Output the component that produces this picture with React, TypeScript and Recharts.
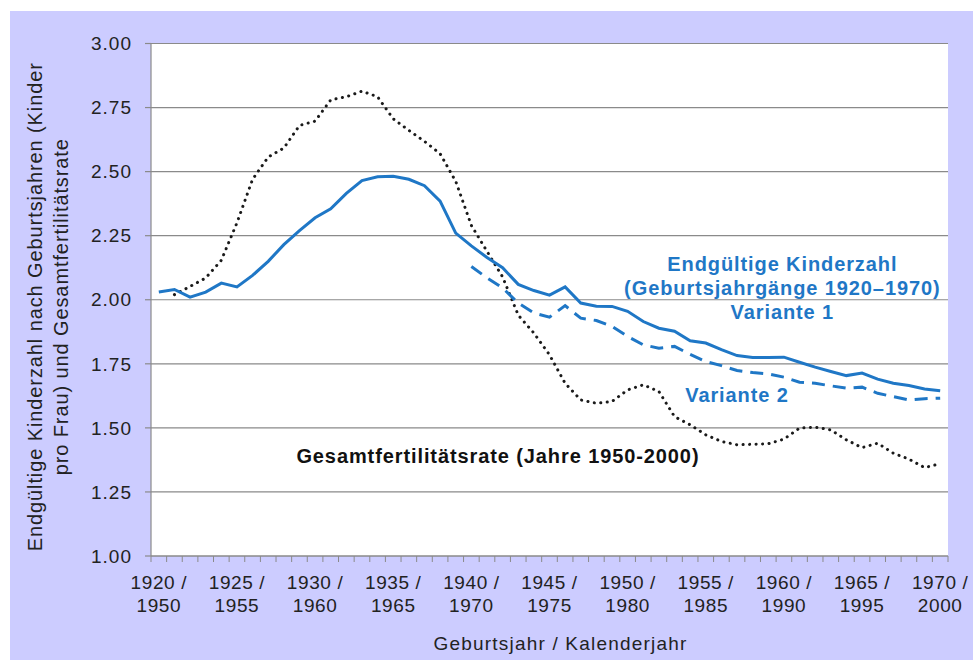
import { LineChart, Line, XAxis, YAxis, CartesianGrid, ReferenceDot } from 'recharts';

const years = [
  1920, 1921, 1922, 1923, 1924, 1925, 1926, 1927, 1928, 1929,
  1930, 1931, 1932, 1933, 1934, 1935, 1936, 1937, 1938, 1939,
  1940, 1941, 1942, 1943, 1944, 1945, 1946, 1947, 1948, 1949,
  1950, 1951, 1952, 1953, 1954, 1955, 1956, 1957, 1958, 1959,
  1960, 1961, 1962, 1963, 1964, 1965, 1966, 1967, 1968, 1969,
  1970,
];

// Endgültige Kinderzahl, Variante 1
const variante1 = [
  2.03, 2.04, 2.01, 2.03, 2.065, 2.05, 2.095, 2.15, 2.215, 2.27,
  2.32, 2.355, 2.415, 2.465, 2.48, 2.482, 2.47, 2.445, 2.385, 2.26,
  2.21, 2.165, 2.125, 2.06, 2.036, 2.018, 2.05, 1.987, 1.975, 1.974,
  1.955, 1.915, 1.889, 1.877, 1.84, 1.831, 1.805, 1.782, 1.775, 1.775,
  1.776, 1.756, 1.737, 1.72, 1.704, 1.714, 1.69, 1.674, 1.665, 1.652,
  1.645,
];

// Endgültige Kinderzahl, Variante 2 (ab Jahrgang 1940)
const variante2 = [
  null, null, null, null, null, null, null, null, null, null,
  null, null, null, null, null, null, null, null, null, null,
  2.13, 2.085, 2.046, 1.987, 1.948, 1.932, 1.977, 1.928, 1.919, 1.896,
  1.857, 1.824, 1.811, 1.818, 1.787, 1.759, 1.743, 1.724, 1.716, 1.711,
  1.698, 1.678, 1.674, 1.664, 1.655, 1.659, 1.635, 1.622, 1.609, 1.614,
  1.616,
];

// Gesamtfertilitätsrate, Kalenderjahre 1950-2000
const tfr = [
  null, 2.02, 2.052, 2.085, 2.154, 2.3, 2.47, 2.557, 2.592, 2.68,
  2.697, 2.78, 2.792, 2.814, 2.792, 2.706, 2.661, 2.618, 2.57, 2.462,
  2.29, 2.189, 2.089, 1.94, 1.87, 1.785, 1.674, 1.609, 1.596, 1.603,
  1.648, 1.668, 1.642, 1.544, 1.512, 1.473, 1.447, 1.434, 1.436, 1.438,
  1.456, 1.499, 1.503, 1.492, 1.453, 1.423, 1.44, 1.401, 1.378, 1.345,
  1.36,
];

const cohortTicks = [1920, 1925, 1930, 1935, 1940, 1945, 1950, 1955, 1960, 1965, 1970];
const calendarTicks = [1950, 1955, 1960, 1965, 1970, 1975, 1980, 1985, 1990, 1995, 2000];
const yTicks = [1, 1.25, 1.5, 1.75, 2, 2.25, 2.5, 2.75, 3];

const data = years.map((year, i) => ({
  year,
  v1: variante1[i],
  v2: variante2[i],
  tfr: tfr[i],
}));

// tick marks between the categories, labels on the categories (like Excel)
const xTicks = [
  ...years.map((y) => y - 0.5),
  years[years.length - 1] + 0.5,
  ...cohortTicks,
].sort((a, b) => a - b);

const FONT = '"Liberation Sans", Arial, sans-serif';
const BLUE = '#1f77c6';
const AXIS = '#8a8a8a';
const TICK = 6;

const XTick = (props: any) => {
  const { x, y, payload } = props;
  const v = payload.value;
  if (!Number.isInteger(v)) {
    return <line x1={x} x2={x} y1={y - TICK} y2={y} stroke={AXIS} strokeWidth={1} />;
  }
  const i = cohortTicks.indexOf(v);
  if (i < 0) return null;
  return (
    <text x={x} y={y} textAnchor="middle" fontFamily={FONT} fontSize={19} letterSpacing={0.6} fill="#222">
      <tspan x={x} dy={26.5}>{`${cohortTicks[i]} /`}</tspan>
      <tspan x={x} dy={23}>{calendarTicks[i]}</tspan>
    </text>
  );
};

const YTitle = (props: any) => {
  const { viewBox } = props;
  const cy = viewBox.y + viewBox.height / 2 + 7;
  const lines = ['Endgültige Kinderzahl nach Geburtsjahren (Kinder', 'pro Frau) und Gesamtfertilitätsrate'];
  const xs = [32, 57.5];
  return (
    <g>
      {lines.map((l, i) => (
        <text
          key={i}
          x={xs[i]}
          y={cy}
          transform={`rotate(-90, ${xs[i]}, ${cy})`}
          textAnchor="middle"
          fontFamily={FONT}
          fontSize={20}
          letterSpacing={0.9}
          fill="#222"
        >
          {l}
        </text>
      ))}
    </g>
  );
};

const XTitle = (props: any) => {
  const { viewBox } = props;
  return (
    <text
      x={viewBox.x + viewBox.width / 2 + 11}
      y={viewBox.y + viewBox.height - 10}
      textAnchor="middle"
      fontFamily={FONT}
      fontSize={19}
      letterSpacing={1.2}
      fill="#222"
    >
      Geburtsjahr / Kalenderjahr
    </text>
  );
};

const Note = (props: any) => {
  const { viewBox, lines, fill } = props;
  const cx = viewBox.x + viewBox.width / 2;
  const cy = viewBox.y + viewBox.height / 2;
  return (
    <text x={cx} y={cy} textAnchor="middle" fontFamily={FONT} fontSize={20} fontWeight="bold" letterSpacing={0.9} fill={fill}>
      {lines.map((l: string, i: number) => (
        <tspan key={i} x={cx} dy={i === 0 ? 0 : 24}>
          {l}
        </tspan>
      ))}
    </text>
  );
};

export default function App() {
  return (
    <div style={{ position: 'absolute', left: 10, top: 11, width: 963, height: 649, background: '#ccccff' }}>
      <LineChart width={963} height={649} data={data} margin={{ top: 32.5, right: 25, bottom: 0, left: 0 }}>
        <CartesianGrid horizontal vertical={false} stroke={AXIS} strokeWidth={1.2} fill="#ffffff" fillOpacity={1} />
        <XAxis
          dataKey="year"
          type="number"
          domain={[1919.5, 1970.5]}
          ticks={xTicks}
          interval={0}
          height={104}
          tickSize={TICK}
          tickMargin={0}
          tickLine={false}
          axisLine={{ stroke: AXIS, strokeWidth: 1.2 }}
          tick={<XTick />}
          label={<XTitle />}
        />
        <YAxis
          type="number"
          domain={[1, 3]}
          ticks={yTicks}
          interval={0}
          width={141}
          tickSize={TICK}
          tickMargin={13}
          tickFormatter={(v: number) => v.toFixed(2)}
          axisLine={{ stroke: AXIS, strokeWidth: 1.2 }}
          tickLine={{ stroke: AXIS, strokeWidth: 1.2 }}
          tick={{ fontFamily: FONT, fontSize: 19, letterSpacing: 1, fill: '#222' }}
          label={<YTitle />}
        />
        <Line
          dataKey="tfr"
          type="linear"
          stroke="#1a1a1a"
          strokeWidth={3}
          strokeDasharray="0.1 6.4"
          strokeLinecap="round"
          dot={false}
          activeDot={false}
          isAnimationActive={false}
        />
        <Line
          dataKey="v2"
          type="linear"
          stroke={BLUE}
          strokeWidth={3}
          strokeDasharray="13 8"
          dot={false}
          activeDot={false}
          isAnimationActive={false}
        />
        <Line
          dataKey="v1"
          type="linear"
          stroke={BLUE}
          strokeWidth={3}
          dot={false}
          activeDot={false}
          isAnimationActive={false}
        />
        <ReferenceDot
          x={1959.9}
          y={2.113}
          r={1}
          fill="none"
          stroke="none"
          label={<Note fill={BLUE} lines={['Endgültige Kinderzahl', '(Geburtsjahrgänge 1920–1970)', 'Variante 1']} />}
        />
        <ReferenceDot x={1957} y={1.601} r={1} fill="none" stroke="none" label={<Note fill={BLUE} lines={['Variante 2']} />} />
        <ReferenceDot
          x={1941.7}
          y={1.361}
          r={1}
          fill="none"
          stroke="none"
          label={<Note fill="#111" lines={['Gesamtfertilitätsrate (Jahre 1950-2000)']} />}
        />
      </LineChart>
    </div>
  );
}
